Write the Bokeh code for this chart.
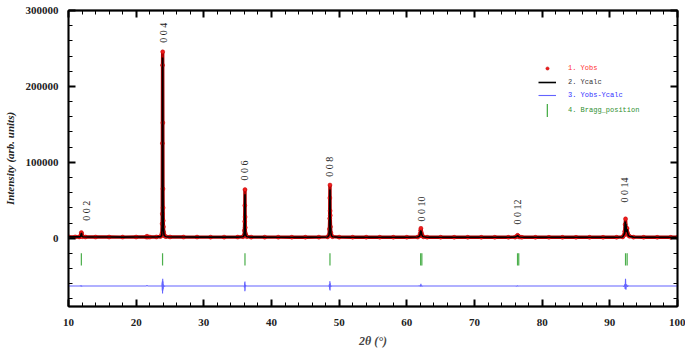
import math
from bokeh.plotting import figure
from bokeh.models import (LinearAxis, SingleIntervalTicker, Legend, LegendItem,
                          ColumnDataSource, NumeralTickFormatter, CustomJSTickFormatter)
from bokeh.core.properties import value
from bokeh.embed import file_html
from bokeh.resources import INLINE

# ---------------- data ----------------
two_theta = [
    10.0, 11.0, 11.6,
    11.80, 11.86, 11.90, 11.94, 11.98, 12.05,
    12.5, 14.0, 16.0, 18.0, 20.0, 21.5, 21.6, 21.7, 22.0, 23.0, 23.6,
    23.76, 23.80, 23.84, 23.86, 23.88, 23.90, 23.92, 23.94, 23.96, 23.98, 24.00, 24.03, 24.07, 24.12, 24.20, 24.40,
    25.0, 27.0, 29.0, 31.0, 33.0, 35.0, 35.8,
    35.96, 36.00, 36.04, 36.06, 36.08, 36.10, 36.12, 36.16, 36.22, 36.35,
    37.0, 39.0, 41.0, 43.0, 45.0, 47.0, 48.3,
    48.50, 48.56, 48.60, 48.62, 48.64, 48.66, 48.68, 48.72, 48.78, 48.86, 49.00,
    50.0, 52.0, 54.0, 56.0, 58.0, 60.0, 61.6,
    61.90, 61.98, 62.04, 62.08, 62.12, 62.20, 62.28, 62.45,
    63.0, 65.0, 67.0, 69.0, 71.0, 73.0, 75.0, 76.0,
    76.28, 76.36, 76.42, 76.52, 76.70,
    77.0, 79.0, 81.0, 83.0, 85.0, 87.0, 89.0, 91.0, 91.9,
    92.10, 92.20, 92.26, 92.32, 92.38, 92.46, 92.54, 92.62, 92.72, 92.90,
    93.5, 95.0, 97.0, 99.0, 100.0,
]
y_obs = [
    1800, 1700, 1650,
    2500, 4500, 7500, 6000, 3000, 2000,
    1600, 1500, 1500, 1450, 1500, 1500, 2600, 1500, 1500, 1600, 2200,
    3500, 6000, 19000, 32000, 125000, 228000, 245600, 152000, 65000, 40000, 23000, 15000, 8000, 4500, 3000, 2000,
    1600, 1500, 1450, 1400, 1400, 1450, 1900,
    4000, 10000, 22000, 43000, 64000, 28000, 14000, 6000, 3500, 2000,
    1400, 1350, 1350, 1300, 1300, 1350, 1700,
    4000, 12000, 26000, 53000, 70000, 36000, 30000, 15000, 7000, 3500, 2000,
    1350, 1300, 1300, 1250, 1250, 1250, 1500,
    3000, 6000, 10500, 13000, 8000, 5500, 3000, 1800,
    1300, 1250, 1200, 1200, 1200, 1200, 1200, 1400,
    2500, 3800, 3000, 2000, 1500,
    1200, 1150, 1150, 1150, 1150, 1150, 1150, 1200, 1700,
    4000, 9000, 18000, 25500, 14000, 10000, 13000, 7000, 4000, 2500,
    1400, 1200, 1150, 1150, 1150,
]
y_calc = [
    1750, 1700, 1700,
    2300, 5000, 6800, 6200, 3200, 1900,
    1600, 1500, 1480, 1450, 1480, 1500, 1600, 1500, 1500, 1580, 2100,
    3400, 6500, 14000, 38000, 118000, 238000, 236000, 146000, 71000, 34000, 27000, 13000, 9000, 4200, 3100, 2000,
    1580, 1500, 1450, 1420, 1400, 1450, 1850,
    3800, 12000, 17000, 50000, 58000, 34000, 12000, 6500, 3300, 2000,
    1400, 1350, 1330, 1300, 1300, 1340, 1650,
    4200, 10000, 31000, 47000, 64000, 42000, 26000, 16000, 6500, 3600, 2000,
    1340, 1300, 1290, 1250, 1250, 1250, 1480,
    2800, 6500, 9500, 10000, 8500, 5200, 3100, 1800,
    1300, 1250, 1200, 1200, 1200, 1200, 1200, 1380,
    2600, 3500, 3100, 2000, 1480,
    1200, 1150, 1150, 1150, 1150, 1150, 1150, 1200, 1650,
    4500, 7000, 22000, 16000, 19000, 8000, 12000, 8000, 3800, 2500,
    1400, 1200, 1150, 1150, 1150,
]
diff_offset = -63000
bragg_pos = [11.9, 23.9, 36.08, 48.64, 62.04, 62.22, 76.36, 76.54, 92.32, 92.56]
bragg_bottom = -36000
bragg_top = -20000

peak_labels = ["0 0 2", "0 0 4", "0 0 6", "0 0 8", "0 0 10", "0 0 12", "0 0 14"]
peak_label_x = [12.6, 24.0, 36.0, 48.6, 62.1, 76.3, 92.1]
peak_label_y = [23000, 257500, 76000, 81000, 22000, 18000, 47000]

assert len(two_theta) == len(y_obs) == len(y_calc)
y_diff = [o - c + diff_offset for o, c in zip(y_obs, y_calc)]

# ---------------- figure ----------------
SERIF = "Liberation Serif"
p = figure(width=685, height=358, x_range=(10, 100), y_range=(-90000, 300000),
           output_backend="svg", toolbar_location=None,
           min_border_left=68, min_border_right=8, min_border_top=10, min_border_bottom=52)
p.xgrid.visible = False
p.ygrid.visible = False
p.outline_line_color = "black"
p.outline_line_width = 1.5
p.background_fill_color = "white"
p.border_fill_color = "white"

src = ColumnDataSource(dict(x=two_theta, obs=y_obs, calc=y_calc, diff=y_diff))

p.line("x", "obs", source=src, line_color="#b00000", line_width=3.4)
obs_r = p.scatter("x", "obs", source=src, marker="circle", size=4,
                  fill_color="#ee1c1c", line_color="#c00000", line_width=0.5)
calc_r = p.line("x", "calc", source=src, line_color="black", line_width=1.6)
diff_r = p.line("x", "diff", source=src, line_color="#4848ff", line_width=1.1, line_alpha=0.85)
bragg_r = p.vbar(x=bragg_pos, width=0.18, bottom=bragg_bottom, top=bragg_top,
                 fill_color="#4caf4c", line_color=None)

p.text(x=peak_label_x, y=peak_label_y, text=peak_labels, angle=math.pi / 2,
       text_align="left", text_baseline="middle", text_font=value(SERIF),
       text_font_size="10px", text_color="#222222")

# ---------------- axes ----------------
xt = SingleIntervalTicker(interval=10, num_minor_ticks=5)
yt = SingleIntervalTicker(interval=100000, num_minor_ticks=5)


def style(ax, labels=True):
    ax.axis_line_width = 1.8
    ax.axis_line_color = "black"
    ax.major_tick_in = 7
    ax.major_tick_out = 0
    ax.minor_tick_in = 4
    ax.minor_tick_out = 0
    ax.major_tick_line_width = 2
    ax.minor_tick_line_width = 1
    if labels:
        ax.major_label_text_font = SERIF
        ax.major_label_text_font_style = "bold"
        ax.major_label_text_font_size = "11px"
        ax.major_label_text_color = "#222222"
    else:
        ax.formatter = CustomJSTickFormatter(code="return ''")
        ax.major_label_standoff = 0


xa = p.xaxis[0]
xa.ticker = xt
style(xa)
xa.major_label_standoff = 12
xa.axis_label = "2θ (°)"
xa.axis_label_text_font = SERIF
xa.axis_label_text_font_style = "bold italic"
xa.axis_label_text_font_size = "12px"
xa.axis_label_standoff = 5

ya = p.yaxis[0]
ya.ticker = yt
ya.formatter = NumeralTickFormatter(format="0")
style(ya)
ya.major_label_standoff = 10
ya.axis_label = "Intensity (arb. units)"
ya.axis_label_text_font = SERIF
ya.axis_label_text_font_style = "bold italic"
ya.axis_label_text_font_size = "11px"
ya.axis_label_text_color = "#222222"
ya.axis_label_standoff = 7

top = LinearAxis(ticker=xt)
style(top, labels=False)
p.add_layout(top, "above")
right = LinearAxis(ticker=yt)
style(right, labels=False)
p.add_layout(right, "right")

# ---------------- legend ----------------
entries = [("1. Yobs", obs_r, "#ff3030", 234, 18, 8),
           ("2. Ycalc", calc_r, "#333333", 218, 18, 12),
           ("3. Yobs-Ycalc", diff_r, "#3030ff", 205, 18, 12),
           ("4. Bragg_position", bragg_r, "#2f8f2f", 188, 2, 16)]
for lab, rend, col, ly, gw, gh in entries:
    shift = (18 - gw) // 2
    lg = Legend(items=[LegendItem(label=lab, renderers=[rend])],
                location=(470 + shift, ly),
                background_fill_alpha=0, border_line_color=None, padding=0, margin=0,
                glyph_width=gw, glyph_height=gh, label_height=gh,
                label_standoff=12 + shift,
                spacing=0, label_text_font="Liberation Mono", label_text_font_size="7px",
                label_text_color=col)
    p.add_layout(lg)

open("out.html", "w").write(file_html(p, INLINE))
